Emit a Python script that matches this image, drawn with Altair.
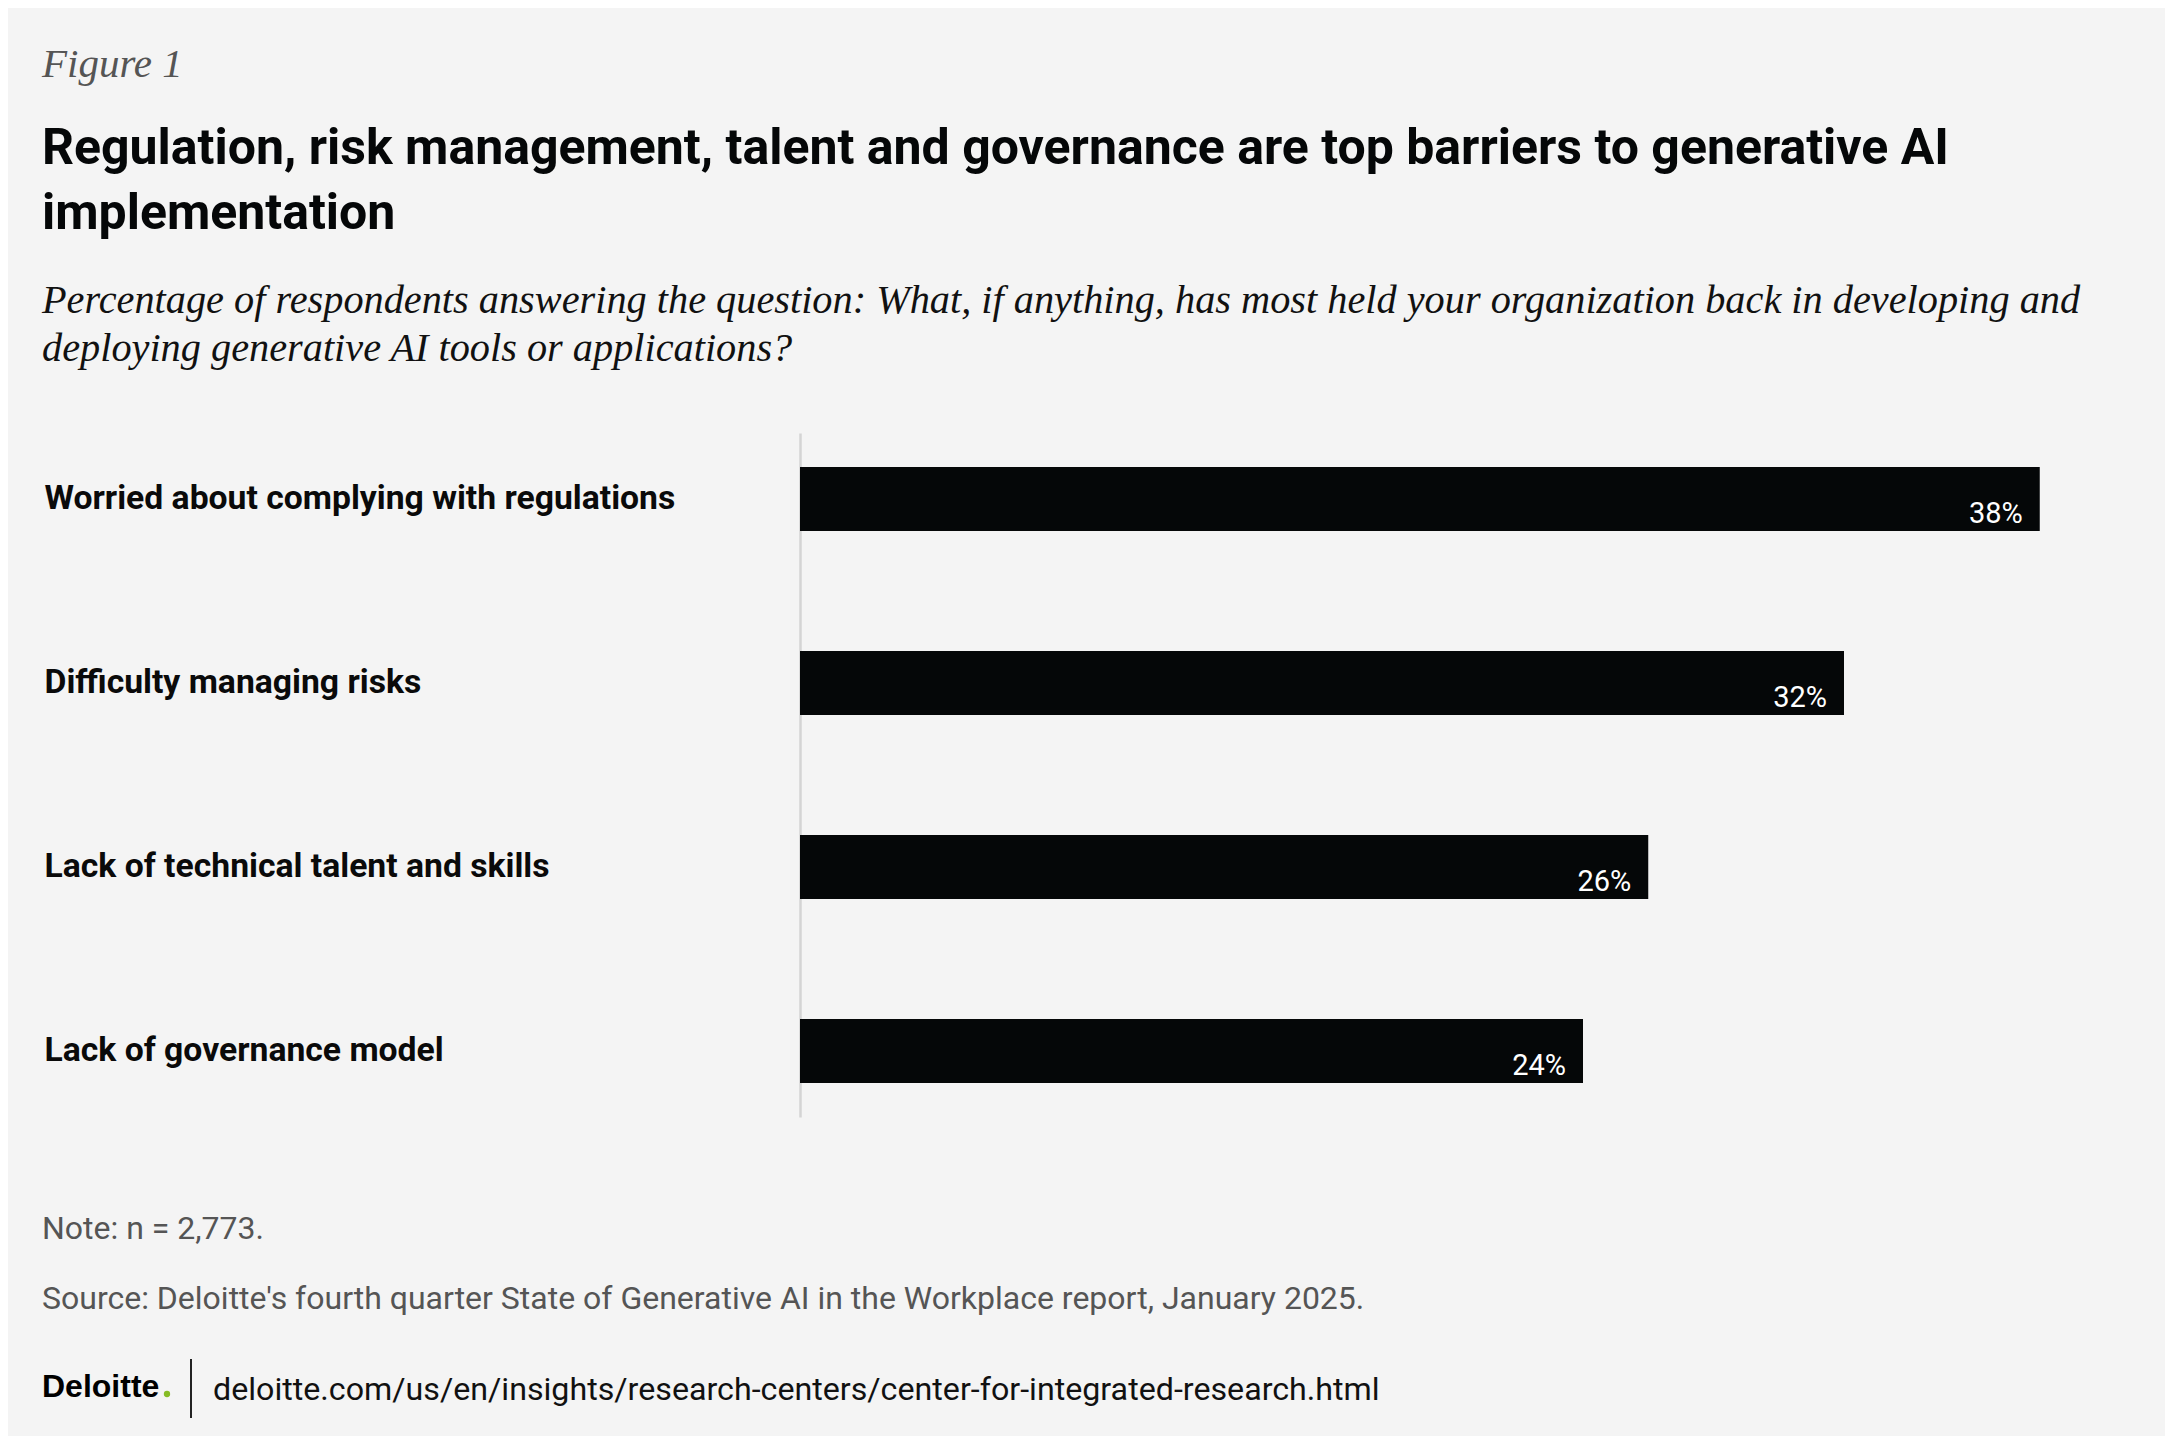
import altair as alt
import pandas as pd

# ---- data ----
categories = [
    "Worried about complying with regulations",
    "Difficulty managing risks",
    "Lack of technical talent and skills",
    "Lack of governance model",
]
values = [38, 32, 26, 24]

figure_label = "Figure 1"
title_lines = [
    "Regulation, risk management, talent and governance are top barriers to generative AI",
    "implementation",
]
subtitle_lines = [
    "Percentage of respondents answering the question: What, if anything, has most held your organization back in developing and",
    "deploying generative AI tools or applications?",
]
note_text = "Note: n = 2,773."
source_text = "Source: Deloitte's fourth quarter State of Generative AI in the Workplace report, January 2025."
brand_text = "Deloitte"
url_text = "deloitte.com/us/en/insights/research-centers/center-for-integrated-research.html"

df = pd.DataFrame({"category": categories, "value": values})
one = pd.DataFrame({"k": [0]})

NARROW = "Roboto, 'Liberation Sans', sans-serif"
SANS = "'Liberation Sans', Arial, sans-serif"
SERIF = "'Liberation Serif', 'Times New Roman', serif"

x_enc = alt.X("value:Q", scale=alt.Scale(domain=[0, 40]), axis=None)
y_enc = alt.Y(
    "category:N",
    sort=categories,
    scale=alt.Scale(paddingInner=0.652, paddingOuter=0.185),
    axis=alt.Axis(
        title=None,
        ticks=False,
        tickSize=0,
        labelPadding=756,
        labelAlign="left",
        labelBaseline="middle",
        labelFont=NARROW,
        labelFontWeight="bold",
        labelFontSize=33.7,
        labelColor="#0a0a0a",
        labelLimit=900,
        domainColor="#d4d4d4",
        domainWidth=2.5,
    ),
)

base = alt.Chart(df)
bars = base.mark_bar(color="#050708").encode(x=x_enc, y=y_enc)
bar_labels = (
    base.transform_calculate(lbl="datum.value + '%'")
    .mark_text(align="right", baseline="alphabetic", dx=-17, dy=24,
               color="white", font=NARROW, fontSize=29)
    .encode(x=x_enc, y=y_enc, text="lbl:N")
)


def txt(text, x, y, **kw):
    return alt.Chart(one).mark_text(text=text, align="left", baseline="alphabetic", **kw).encode(
        x=alt.value(x), y=alt.value(y)
    )


fig = txt(figure_label, -758, -356, font=SERIF, fontStyle="italic", fontSize=41, color="#555555")
title = txt(title_lines, -758, -269, font=NARROW, fontWeight="bold", fontSize=50,
            lineHeight=65, color="#050708")
subtitle = txt(subtitle_lines, -758, -120, font=SERIF, fontStyle="italic", fontSize=40.3,
               lineHeight=48, color="#111111")
note = txt(note_text, -758, 806, font=NARROW, fontSize=32, color="#555555")
source = txt(source_text, -758, 876, font=NARROW, fontSize=32, color="#555555")
brand = txt(brand_text, -758, 964, font=SANS, fontWeight="bold", fontSize=32, color="#000000")
dot = alt.Chart(one).mark_circle(color="#86BC25", opacity=1, size=40).encode(
    x=alt.value(-633), y=alt.value(961)
)
sep = alt.Chart(one).mark_rule(color="#222222", strokeWidth=2).encode(
    x=alt.value(-609), y=alt.value(926), y2=alt.value(985)
)
url = txt(url_text, -587, 967, font=NARROW, fontSize=32.2, color="#111111")

chart = (
    alt.layer(bars, bar_labels, fig, title, subtitle, note, source, brand, dot, sep, url)
    .properties(
        width=1305,
        height=684,
        autosize=alt.AutoSizeParams(type="none"),
        padding={"left": 792, "top": 425, "right": 60, "bottom": 319},
        background="#f4f4f4",
    )
    .configure_view(stroke=None)
)

chart.save("out.html", embed_options={"renderer": "svg", "actions": False})
